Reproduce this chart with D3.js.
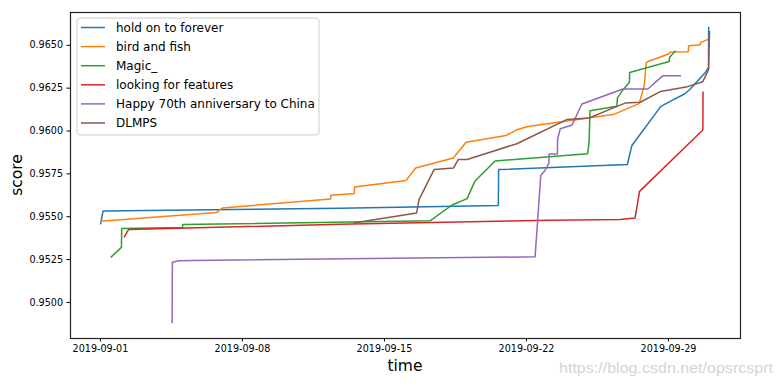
<!DOCTYPE html>
<html>
<head>
<meta charset="utf-8">
<script src="https://cdn.jsdelivr.net/npm/d3@7"></script>
<style>
    html, body { margin: 0; padding: 0; background: #ffffff; overflow: hidden; }
    svg { display: block; }
    svg text { font-family: "DejaVu Sans", sans-serif; }
</style>
</head>
<body>
<div id="score-container"></div>
<script>
    // Team names and their colours (matplotlib default cycle)
    var teamNames = ["hold on to forever", "bird and fish", "Magic_", "looking for features", "Happy 70th anniversary to China", "DLMPS"];
    var teamColors = ["#1f77b4", "#ff7f0e", "#2ca02c", "#d62728", "#9467bd", "#8c564b"];

    // hold on to forever
    var holdTimes = ["2019-09-01 00:36", "2019-09-01 03:40", "2019-09-12 20:00", "2019-09-20 15:20", "2019-09-20 15:40", "2019-09-27 00:00", "2019-09-27 05:20", "2019-09-28 15:36", "2019-09-29 06:30", "2019-09-29 19:40", "2019-09-30 02:24", "2019-09-30 20:10", "2019-10-01 00:00", "2019-10-01 00:10"];
    var holdScores = [0.95452, 0.95531, 0.95547, 0.95562, 0.95772, 0.95802, 0.95913, 0.96141, 0.96180, 0.96213, 0.96242, 0.96339, 0.96368, 0.96605];

    // bird and fish
    var birdTimes = ["2019-09-01 00:36", "2019-09-06 18:00", "2019-09-07 01:00", "2019-09-12 09:00", "2019-09-12 09:10", "2019-09-13 13:00", "2019-09-13 13:10", "2019-09-16 02:10", "2019-09-16 13:30", "2019-09-18 10:00", "2019-09-19 01:12", "2019-09-21 00:30", "2019-09-21 13:12", "2019-09-22 02:24", "2019-09-26 07:12", "2019-09-27 13:55", "2019-09-27 19:55", "2019-09-27 22:20", "2019-09-28 00:30", "2019-09-29 01:26", "2019-09-29 02:38", "2019-09-30 00:00", "2019-09-30 00:30", "2019-09-30 14:10", "2019-09-30 14:38", "2019-10-01 00:00"];
    var birdScores = [0.95471, 0.95522, 0.95548, 0.95601, 0.95622, 0.95632, 0.95670, 0.95709, 0.95781, 0.95840, 0.95932, 0.95971, 0.96004, 0.96023, 0.96093, 0.96157, 0.96262, 0.96395, 0.96403, 0.96448, 0.96458, 0.96459, 0.96494, 0.96500, 0.96513, 0.96533];

    // Magic_
    var magicTimes = ["2019-09-01 12:48", "2019-09-02 01:26", "2019-09-02 01:41", "2019-09-05 01:41", "2019-09-05 01:55", "2019-09-17 06:30", "2019-09-18 08:10", "2019-09-19 02:24", "2019-09-19 11:46", "2019-09-20 11:30", "2019-09-25 01:00", "2019-09-25 02:38", "2019-09-25 03:50", "2019-09-26 11:30", "2019-09-26 12:14", "2019-09-26 18:43", "2019-09-27 02:24", "2019-09-27 02:38", "2019-09-29 01:26", "2019-09-29 01:55", "2019-09-29 09:07"];
    var magicScores = [0.95260, 0.95318, 0.95428, 0.95434, 0.95452, 0.95473, 0.95564, 0.95603, 0.95706, 0.95822, 0.95865, 0.95932, 0.96116, 0.96141, 0.96190, 0.96237, 0.96281, 0.96339, 0.96403, 0.96428, 0.96465];

    // looking for features
    var lookingTimes = ["2019-09-02 04:34", "2019-09-02 09:22", "2019-09-02 10:48", "2019-09-12 20:00", "2019-09-23 04:34", "2019-09-26 15:22", "2019-09-27 09:07", "2019-09-27 14:24", "2019-09-30 17:17", "2019-09-30 17:31"];
    var lookingScores = [0.95376, 0.95419, 0.95423, 0.95453, 0.95477, 0.95481, 0.95490, 0.95645, 0.96003, 0.96227];

    // Happy 70th anniversary to China
    var happyTimes = ["2019-09-04 13:26", "2019-09-04 13:41", "2019-09-04 21:36", "2019-09-05 14:10", "2019-09-22 10:48", "2019-09-22 17:31", "2019-09-22 22:34", "2019-09-23 03:07", "2019-09-23 03:22", "2019-09-23 13:12", "2019-09-23 13:26", "2019-09-23 16:34", "2019-09-24 06:30", "2019-09-24 18:14", "2019-09-26 18:43", "2019-09-28 00:14", "2019-09-28 18:00", "2019-09-29 15:36"];
    var happyScores = [0.94876, 0.95231, 0.95240, 0.95242, 0.95263, 0.95738, 0.95767, 0.95810, 0.95863, 0.95863, 0.95951, 0.96010, 0.96032, 0.96155, 0.96242, 0.96242, 0.96320, 0.96320];

    // DLMPS
    var dlmpsTimes = ["2019-09-13 11:46", "2019-09-16 14:38", "2019-09-16 17:31", "2019-09-17 11:17", "2019-09-18 10:05", "2019-09-18 16:05", "2019-09-19 02:24", "2019-09-21 13:12", "2019-09-24 00:14", "2019-09-25 02:38", "2019-09-26 07:26", "2019-09-26 21:22", "2019-09-27 15:07", "2019-09-28 14:53", "2019-09-29 23:02", "2019-09-30 17:17", "2019-10-01 00:00", "2019-10-01 01:12"];
    var dlmpsScores = [0.95461, 0.95519, 0.95597, 0.95772, 0.95781, 0.95831, 0.95831, 0.95923, 0.96064, 0.96073, 0.96132, 0.96160, 0.96165, 0.96227, 0.96256, 0.96285, 0.96355, 0.96581];

    // Tick labels
    var xTickLabels = ["2019-09-01", "2019-09-08", "2019-09-15", "2019-09-22", "2019-09-29"];
    var yTickValues = [0.9500, 0.9525, 0.9550, 0.9575, 0.9600, 0.9625, 0.9650];

    var parseTime = d3.timeParse("%Y-%m-%d %H:%M");
    var parseDay = d3.timeParse("%Y-%m-%d");

    // Putting the series together
    var allTimes = [holdTimes, birdTimes, magicTimes, lookingTimes, happyTimes, dlmpsTimes];
    var allScores = [holdScores, birdScores, magicScores, lookingScores, happyScores, dlmpsScores];
    var series = teamNames.map(function (name, i) {
        return {
            name: name,
            color: teamColors[i],
            points: allTimes[i].map(function (t, j) { return { time: parseTime(t), score: allScores[i][j] }; })
        };
    });

    // Dimensions of the figure
    var width = 779, height = 386;
    var margin = { top: 12, right: 39, bottom: 48, left: 70 };
    var innerWidth = width - margin.left - margin.right;
    var innerHeight = height - margin.top - margin.bottom;

    // Domains padded by 5% like matplotlib does
    var everyPoint = d3.merge(series.map(function (s) { return s.points; }));
    var timeExtent = d3.extent(everyPoint, function (d) { return d.time; });
    var scoreExtent = d3.extent(everyPoint, function (d) { return d.score; });
    var timePad = (timeExtent[1] - timeExtent[0]) * 0.05;
    var scorePad = (scoreExtent[1] - scoreExtent[0]) * 0.05;

    var x = d3.scaleTime()
        .domain([new Date(+timeExtent[0] - timePad), new Date(+timeExtent[1] + timePad)])
        .range([0, innerWidth]);

    var y = d3.scaleLinear()
        .domain([scoreExtent[0] - scorePad, scoreExtent[1] + scorePad])
        .range([innerHeight, 0]);

    var svg = d3.select("#score-container")
        .append("svg")
        .attr("width", width)
        .attr("height", height);

    var g = svg.append("g")
        .attr("transform", `translate(${margin.left}, ${margin.top})`);

    // The lines
    var line = d3.line()
        .x(function (d) { return x(d.time); })
        .y(function (d) { return y(d.score); });

    g.selectAll(".team-line")
        .data(series)
        .enter()
        .append("path")
        .attr("class", "team-line")
        .attr("fill", "none")
        .attr("stroke", function (d) { return d.color; })
        .attr("stroke-width", 1.5)
        .attr("stroke-linejoin", "round")
        .attr("d", function (d) { return line(d.points); });

    // Axes
    var xAxis = g.append("g")
        .attr("transform", `translate(0, ${innerHeight})`)
        .call(d3.axisBottom(x)
            .tickValues(xTickLabels.map(parseDay))
            .tickFormat(d3.timeFormat("%Y-%m-%d"))
            .tickSize(3.5)
            .tickPadding(3.5));

    var yAxis = g.append("g")
        .call(d3.axisLeft(y)
            .tickValues(yTickValues)
            .tickFormat(d3.format(".4f"))
            .tickSize(3.5)
            .tickPadding(3.5));

    [xAxis, yAxis].forEach(function (a) {
        a.select(".domain").remove();
        a.selectAll("line").attr("stroke", "#000").attr("stroke-width", 1);
        a.selectAll("text").attr("fill", "#000").style("font-size", "9.6px");
    });

    // Frame around the plot
    g.append("rect")
        .attr("x", 0.5)
        .attr("y", 0.5)
        .attr("width", innerWidth)
        .attr("height", innerHeight)
        .attr("fill", "none")
        .attr("stroke", "#222")
        .attr("stroke-width", 1.2);

    // Axis labels
    g.append("text")
        .attr("x", innerWidth / 2)
        .attr("y", innerHeight + 33)
        .attr("text-anchor", "middle")
        .style("font-size", "15.5px")
        .attr("fill", "#000")
        .text("time");

    g.append("text")
        .attr("transform", "rotate(-90)")
        .attr("x", -innerHeight / 2)
        .attr("y", -48)
        .attr("text-anchor", "middle")
        .style("font-size", "15.5px")
        .attr("fill", "#000")
        .text("score");

    // Legend
    var legend = g.append("g")
        .attr("transform", "translate(7, 6)");

    legend.append("rect")
        .attr("x", 0)
        .attr("y", 0)
        .attr("width", 242)
        .attr("height", 117)
        .attr("rx", 3)
        .attr("fill", "#fff")
        .attr("fill-opacity", 0.8)
        .attr("stroke", "#cccccc");

    var rows = legend.selectAll(".legend-row")
        .data(series)
        .enter()
        .append("g")
        .attr("class", "legend-row")
        .attr("transform", function (d, i) { return `translate(0, ${9.5 + i * 19.1})`; });

    rows.append("line")
        .attr("x1", 4)
        .attr("x2", 28)
        .attr("stroke", function (d) { return d.color; })
        .attr("stroke-width", 1.5);

    rows.append("text")
        .attr("x", 39)
        .attr("dy", "0.36em")
        .style("font-size", "12px")
        .attr("fill", "#000")
        .text(function (d) { return d.name; });

    // Watermark
    svg.append("text")
        .attr("x", 773)
        .attr("y", 373)
        .attr("text-anchor", "end")
        .attr("textLength", 214)
        .attr("lengthAdjust", "spacingAndGlyphs")
        .style("font-family", "'Liberation Sans', sans-serif")
        .style("font-size", "15px")
        .attr("fill", "#d4d4d4")
        .text("https://blog.csdn.net/opsrcsprt");
</script>
</body>
</html>
